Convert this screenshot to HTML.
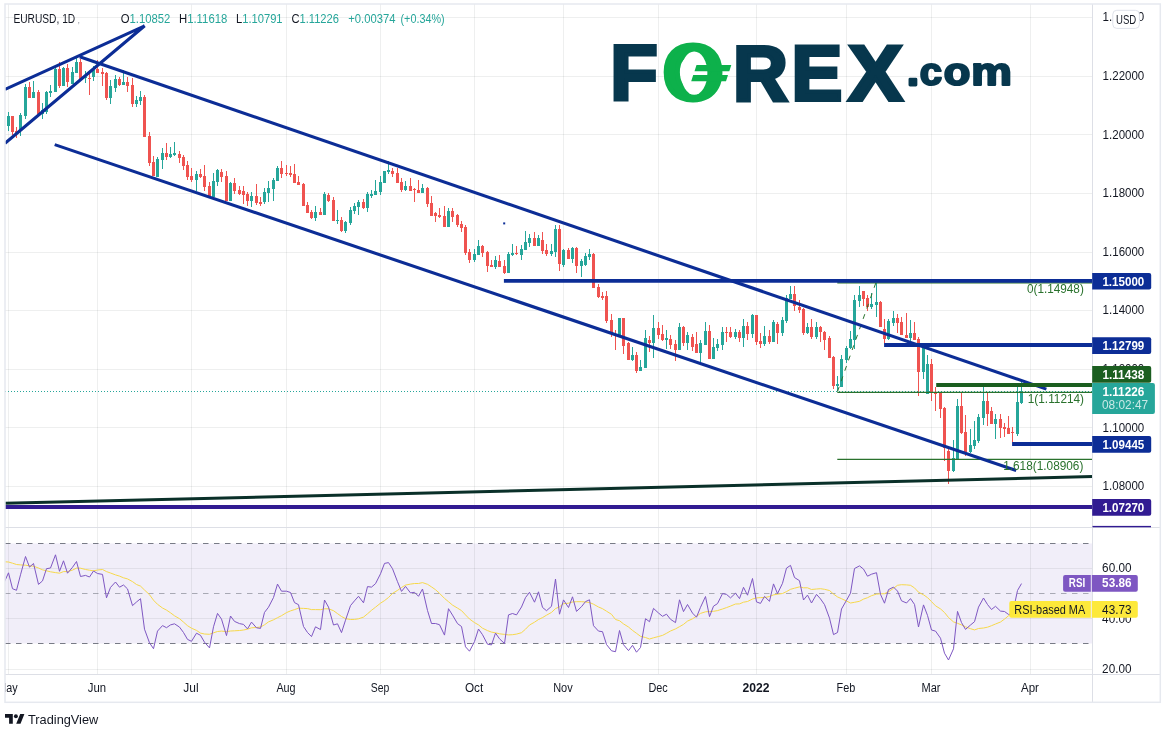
<!DOCTYPE html><html><head><meta charset="utf-8"><title>EURUSD 1D</title>
<style>html,body{margin:0;padding:0;background:#fff}svg{display:block}text{font-family:"Liberation Sans",sans-serif}</style></head><body>
<svg width="1170" height="737" viewBox="0 0 1170 737">
<rect x="0" y="0" width="1170" height="737" fill="#fff"/>
<defs><clipPath id="cp"><rect x="5" y="4" width="1087.5" height="523.5"/></clipPath>
<clipPath id="cr"><rect x="5" y="527.5" width="1087.5" height="147.0"/></clipPath>
<clipPath id="ct"><rect x="5.5" y="675" width="1087" height="27"/></clipPath></defs>
<rect x="5" y="543.5" width="1087.5" height="100.0" fill="#f1eef9"/>
<path d="M8.5 4V674.5M97.5 4V674.5M191.5 4V674.5M286.5 4V674.5M380.5 4V674.5M474.5 4V674.5M563.5 4V674.5M658.5 4V674.5M756.5 4V674.5M846.5 4V674.5M931.5 4V674.5M1030.5 4V674.5M5 17.5H1092.5M5 76.5H1092.5M5 134.5H1092.5M5 193.5H1092.5M5 252.5H1092.5M5 310.5H1092.5M5 369.5H1092.5M5 427.5H1092.5M5 486.5H1092.5M5 568.5H1092.5M5 618.5H1092.5M5 669.5H1092.5" stroke="#131722" stroke-opacity="0.07" stroke-width="1" fill="none"/>
<path d="M5 543.5H1089M5 643.5H1089" stroke="#787b86" stroke-width="1" stroke-dasharray="5.5 5.5" fill="none"/>
<path d="M5 593.5H1089" stroke="#787b86" stroke-opacity="0.6" stroke-width="1" stroke-dasharray="5.5 5.5" fill="none"/>
<path d="M5 391.5H1092.5" stroke="#26a69a" stroke-width="1" stroke-dasharray="1 2" fill="none"/>
<g clip-path="url(#cp)">
<path d="M12.5 116V135M16.5 127V138M29.5 82V98M38.5 90V114M59.5 62V88M67.5 64V87M80.5 59V79M89.5 74V95M97.5 60V73M102.5 68V86M106.5 72V100M119.5 77V86M127.5 77V92M132.5 78V107M144.5 95V137M149.5 132V166M153.5 156V176M166.5 143V160M179.5 151V163M183.5 155V170M187.5 161V180M191.5 168V182M200.5 169V178M204.5 165V191M209.5 182V196M221.5 169V182M226.5 171V201M234.5 178V194M239.5 186V195M243.5 186V204M247.5 192V206M256.5 184V205M260.5 197V206M281.5 161V178M286.5 165V176M290.5 166V177M294.5 164V183M298.5 176V185M303.5 183V206M307.5 202V213M311.5 210V219M320.5 208V215M328.5 193V202M333.5 197V221M341.5 217V232M363.5 199V209M392.5 168V177M397.5 168V183M401.5 178V192M410.5 178V191M414.5 188V202M418.5 180V193M427.5 187V207M431.5 196V216M435.5 212V222M439.5 208V218M444.5 206V227M452.5 208V222M457.5 214V227M461.5 221V232M465.5 225V255M469.5 249V263M482.5 245V257M487.5 251V272M491.5 260V267M499.5 255V267M504.5 260V274M516.5 246V255M534.5 232V246M542.5 232V254M546.5 244V256M559.5 225V271M568.5 248V259M576.5 247V273M593.5 253V288M598.5 284V298M602.5 292V300M606.5 291V323M611.5 314V337M615.5 330V350M623.5 318V354M628.5 342V360M636.5 352V373M649.5 336V352M658.5 322V339M662.5 325V341M670.5 335V349M675.5 340V361M683.5 326V346M692.5 334V351M696.5 332V353M709.5 325V359M726.5 327V342M730.5 327V338M739.5 330V342M747.5 322V340M756.5 315V345M760.5 333V348M769.5 330V344M777.5 322V344M794.5 286V311M799.5 300V313M803.5 308V335M811.5 319V339M820.5 326V342M824.5 331V350M829.5 336V358M833.5 356V389M863.5 291V306M867.5 295V311M880.5 301V327M884.5 319V343M897.5 314V333M901.5 317V335M906.5 313V338M914.5 322V340M918.5 337V396M931.5 359V401M935.5 387V411M940.5 393V418M944.5 407V461M948.5 449V484M961.5 393V434M965.5 415V456M987.5 393V426M991.5 407V424M1000.5 414V438M1004.5 423V437M1008.5 416V434M1012.5 427V442" stroke="#ef5350" stroke-width="1" fill="none"/>
<path d="M11.0 116h3V132h-3zM15.0 131h3V134h-3zM28.0 87h3V98h-3zM37.0 92h3V114h-3zM58.0 69h3V86h-3zM66.0 68h3V82h-3zM79.0 62h3V79h-3zM88.0 78h3V79h-3zM96.0 69h3V73h-3zM101.0 72h3V74h-3zM105.0 73h3V98h-3zM118.0 79h3V85h-3zM126.0 82h3V86h-3zM131.0 85h3V104h-3zM143.0 97h3V137h-3zM148.0 136h3V163h-3zM152.0 162h3V176h-3zM165.0 153h3V157h-3zM178.0 154h3V158h-3zM182.0 157h3V166h-3zM186.0 165h3V177h-3zM190.0 176h3V180h-3zM199.0 174h3V177h-3zM203.0 176h3V187h-3zM208.0 186h3V196h-3zM220.0 172h3V177h-3zM225.0 176h3V201h-3zM233.0 183h3V191h-3zM238.0 190h3V194h-3zM242.0 191h3V195h-3zM246.0 194h3V201h-3zM255.0 196h3V203h-3zM259.0 202h3V204h-3zM280.0 168h3V174h-3zM285.0 173h3V174h-3zM289.0 173h3V175h-3zM293.0 174h3V183h-3zM297.0 182h3V185h-3zM302.0 184h3V206h-3zM306.0 205h3V213h-3zM310.0 212h3V218h-3zM319.0 212h3V215h-3zM327.0 195h3V201h-3zM332.0 200h3V221h-3zM340.0 220h3V231h-3zM362.0 202h3V208h-3zM391.0 171h3V174h-3zM396.0 173h3V183h-3zM400.0 182h3V190h-3zM409.0 186h3V191h-3zM413.0 189h3V190h-3zM417.0 190h3V193h-3zM426.0 188h3V204h-3zM430.0 203h3V216h-3zM434.0 213h3V216h-3zM438.0 215h3V217h-3zM443.0 216h3V227h-3zM451.0 211h3V217h-3zM456.0 215h3V225h-3zM460.0 224h3V228h-3zM464.0 227h3V253h-3zM468.0 252h3V260h-3zM481.0 246h3V253h-3zM486.0 252h3V266h-3zM490.0 265h3V267h-3zM498.0 261h3V267h-3zM503.0 266h3V273h-3zM515.0 253h3V254h-3zM533.0 238h3V246h-3zM541.0 240h3V251h-3zM545.0 250h3V254h-3zM558.0 229h3V264h-3zM567.0 250h3V259h-3zM575.0 248h3V266h-3zM592.0 254h3V288h-3zM597.0 287h3V297h-3zM601.0 296h3V298h-3zM605.0 296h3V321h-3zM610.0 320h3V334h-3zM614.0 334h3V336h-3zM622.0 318h3V346h-3zM627.0 343h3V360h-3zM635.0 355h3V371h-3zM648.0 340h3V343h-3zM657.0 328h3V335h-3zM661.0 334h3V340h-3zM669.0 339h3V345h-3zM674.0 344h3V350h-3zM682.0 327h3V343h-3zM691.0 337h3V347h-3zM695.0 344h3V353h-3zM708.0 331h3V359h-3zM725.0 332h3V333h-3zM729.0 332h3V337h-3zM738.0 332h3V338h-3zM746.0 326h3V334h-3zM755.0 315h3V342h-3zM759.0 341h3V344h-3zM768.0 336h3V342h-3zM776.0 324h3V333h-3zM793.0 294h3V306h-3zM798.0 307h3V310h-3zM802.0 309h3V333h-3zM810.0 327h3V337h-3zM819.0 327h3V332h-3zM823.0 332h3V340h-3zM828.0 338h3V358h-3zM832.0 357h3V386h-3zM862.0 291h3V299h-3zM866.0 298h3V307h-3zM879.0 302h3V327h-3zM883.0 329h3V339h-3zM896.0 318h3V323h-3zM900.0 322h3V335h-3zM905.0 335h3V338h-3zM913.0 333h3V340h-3zM917.0 339h3V372h-3zM930.0 364h3V392h-3zM934.0 392h3V394h-3zM939.0 393h3V409h-3zM943.0 408h3V448h-3zM947.0 451h3V471h-3zM960.0 406h3V433h-3zM964.0 432h3V452h-3zM986.0 401h3V414h-3zM990.0 411h3V424h-3zM999.0 419h3V428h-3zM1003.0 427h3V429h-3zM1007.0 428h3V434h-3zM1011.0 432h3V433h-3z" fill="#ef5350"/>
<path d="M8.5 112V131M20.5 113V136M25.5 84V119M33.5 81V98M42.5 103V119M46.5 91V114M50.5 85V97M55.5 68V92M63.5 67V86M72.5 67V84M76.5 58V73M85.5 71V83M93.5 66V81M110.5 80V104M115.5 75V92M123.5 70V85M136.5 96V107M140.5 91V105M157.5 157V177M162.5 148V169M170.5 147V158M174.5 142V156M196.5 171V191M213.5 173V197M217.5 169V186M230.5 182V201M251.5 192V207M264.5 188V204M268.5 181V202M273.5 178V201M277.5 166V181M315.5 206V221M324.5 192V215M337.5 210V224M345.5 221V233M350.5 207V225M354.5 203V214M358.5 200V215M367.5 192V212M371.5 190V198M375.5 180V195M380.5 176V195M384.5 171V183M388.5 161V174M405.5 181V191M422.5 184V193M448.5 208V227M474.5 249V262M478.5 240V255M495.5 256V269M508.5 252V273M512.5 244V256M521.5 245V260M525.5 231V250M529.5 234V247M538.5 235V246M551.5 244V256M555.5 225V257M563.5 249V267M572.5 247V263M581.5 259V277M585.5 253V266M589.5 249V260M619.5 318V335M632.5 347V361M640.5 360V371M645.5 330V368M653.5 315V358M666.5 330V349M679.5 323V350M687.5 332V350M700.5 340V362M705.5 322V345M713.5 338V359M717.5 339V351M722.5 327V350M735.5 329V339M743.5 319V347M752.5 314V338M764.5 326V346M773.5 320V342M782.5 317V336M786.5 295V323M790.5 286V299M807.5 323V334M816.5 322V339M837.5 376V391M841.5 355V387M846.5 346V363M850.5 331V349M854.5 295V349M859.5 286V307M871.5 293V309M876.5 283V317M888.5 319V340M893.5 311V326M910.5 320V341M923.5 348V379M927.5 355V394M953.5 440V472M957.5 399V459M970.5 429V453M974.5 421V449M978.5 414V443M983.5 387V425M995.5 414V439M1017.5 387V436M1021.5 380V404" stroke="#26a69a" stroke-width="1" fill="none"/>
<path d="M7.0 116h3V126h-3zM19.0 115h3V131h-3zM24.0 87h3V116h-3zM32.0 92h3V98h-3zM41.0 110h3V114h-3zM45.0 92h3V112h-3zM49.0 91h3V93h-3zM54.0 69h3V92h-3zM62.0 68h3V86h-3zM71.0 72h3V84h-3zM75.0 62h3V73h-3zM84.0 77h3V78h-3zM92.0 70h3V77h-3zM109.0 86h3V98h-3zM114.0 79h3V88h-3zM122.0 82h3V85h-3zM135.0 100h3V104h-3zM139.0 97h3V101h-3zM156.0 159h3V177h-3zM161.0 153h3V160h-3zM169.0 154h3V157h-3zM173.0 153h3V155h-3zM195.0 174h3V180h-3zM212.0 181h3V197h-3zM216.0 170h3V182h-3zM229.0 183h3V201h-3zM250.0 196h3V201h-3zM263.0 192h3V202h-3zM267.0 188h3V193h-3zM272.0 180h3V189h-3zM276.0 168h3V181h-3zM314.0 212h3V218h-3zM323.0 194h3V215h-3zM336.0 220h3V221h-3zM344.0 222h3V231h-3zM349.0 210h3V223h-3zM353.0 206h3V211h-3zM357.0 202h3V207h-3zM366.0 194h3V208h-3zM370.0 194h3V196h-3zM374.0 191h3V195h-3zM379.0 182h3V192h-3zM383.0 171h3V183h-3zM387.0 170h3V172h-3zM404.0 186h3V190h-3zM421.0 188h3V193h-3zM447.0 211h3V227h-3zM473.0 254h3V260h-3zM477.0 246h3V255h-3zM494.0 260h3V267h-3zM507.0 254h3V273h-3zM511.0 253h3V255h-3zM520.0 249h3V255h-3zM524.0 242h3V250h-3zM528.0 238h3V243h-3zM537.0 238h3V246h-3zM550.0 251h3V254h-3zM554.0 229h3V252h-3zM562.0 250h3V265h-3zM571.0 248h3V259h-3zM580.0 261h3V266h-3zM584.0 256h3V265h-3zM588.0 254h3V257h-3zM618.0 318h3V335h-3zM631.0 355h3V360h-3zM639.0 367h3V371h-3zM644.0 338h3V368h-3zM652.0 328h3V343h-3zM665.0 338h3V340h-3zM678.0 327h3V350h-3zM686.0 335h3V343h-3zM699.0 343h3V353h-3zM704.0 331h3V345h-3zM712.0 347h3V359h-3zM716.0 344h3V348h-3zM721.0 332h3V345h-3zM734.0 332h3V337h-3zM742.0 326h3V338h-3zM751.0 315h3V334h-3zM763.0 336h3V344h-3zM772.0 322h3V342h-3zM781.0 320h3V333h-3zM785.0 298h3V321h-3zM789.0 294h3V299h-3zM806.0 327h3V333h-3zM815.0 327h3V337h-3zM836.0 384h3V386h-3zM840.0 359h3V387h-3zM845.0 348h3V360h-3zM849.0 339h3V348h-3zM853.0 300h3V340h-3zM858.0 295h3V301h-3zM870.0 304h3V307h-3zM875.0 302h3V305h-3zM887.0 321h3V339h-3zM892.0 318h3V323h-3zM909.0 333h3V338h-3zM922.0 348h3V372h-3zM926.0 364h3V394h-3zM952.0 458h3V471h-3zM956.0 406h3V459h-3zM969.0 445h3V452h-3zM973.0 440h3V446h-3zM977.0 417h3V441h-3zM982.0 401h3V418h-3zM994.0 419h3V424h-3zM1016.0 402h3V434h-3zM1020.0 391h3V403h-3z" fill="#26a69a"/>
<path d="M837.3 282.9H1092.5M837.3 392.3H1092.5M837.3 459.4H1092.5" stroke="#2a722d" stroke-width="1.3" fill="none"/>
<path d="M837.5 391.5L875.8 283" stroke="#2a722d" stroke-width="1" stroke-dasharray="5 6" fill="none"/>
<g stroke="#0c2d96" fill="none" stroke-width="3.1">
<path d="M5 89.4L144.7 25.8M144.7 25.8L5 143.3"/>
<path d="M79.7 56.7L1046.4 389.1"/>
<path d="M54.7 144.6L1016.2 470.5"/>
</g>
<g stroke="#0c2d96" fill="none" stroke-width="3.8">
<path d="M503.9 280.8H1092.5"/>
<path d="M884.1 345H1092.5"/>
<path d="M1012.1 444H1092.5"/>
</g>
<rect x="503.2" y="222.4" width="2" height="2" fill="#0c2d96"/>
<path d="M936.2 385H1092.5" stroke="#1b5e20" stroke-width="3.8" fill="none"/>
<path d="M5 503.3L1092.5 476.6" stroke="#0a3029" stroke-width="3" fill="none"/>
<path d="M5 506.9H1092.5" stroke="#311b92" stroke-width="4" fill="none"/>
</g>
<text x="1027.0" y="292.8" font-size="12" fill="#2a722d" textLength="56.8" lengthAdjust="spacingAndGlyphs">0(1.14948)</text>
<text x="1027.8" y="402.6" font-size="12" fill="#2a722d" textLength="56.2" lengthAdjust="spacingAndGlyphs">1(1.11214)</text>
<text x="1003.2" y="470.2" font-size="12" fill="#2a722d" textLength="80.2" lengthAdjust="spacingAndGlyphs">1.618(1.08906)</text>
<g clip-path="url(#cr)">
<polyline points="0,561.5 8.5,562.0 12.5,563.2 16.5,564.5 20.5,564.9 25.5,565.2 29.5,565.8 33.5,566.2 38.5,568.0 42.5,569.8 46.5,570.8 50.5,571.8 55.5,572.6 59.5,573.2 63.5,571.6 67.5,571.6 72.5,570.1 76.5,568.1 80.5,568.2 85.5,569.5 89.5,570.2 93.5,570.8 97.5,570.0 102.5,569.5 106.5,571.6 110.5,573.0 115.5,574.9 119.5,576.1 123.5,577.8 127.5,578.9 132.5,581.6 136.5,584.5 140.5,586.1 144.5,590.0 149.5,594.7 153.5,600.2 157.5,604.3 162.5,608.0 166.5,610.1 170.5,612.8 174.5,615.8 179.5,618.7 183.5,622.1 187.5,625.7 191.5,628.2 196.5,630.4 200.5,633.1 204.5,634.0 209.5,634.3 213.5,632.8 217.5,631.5 221.5,631.1 226.5,631.6 230.5,631.0 234.5,630.8 239.5,630.5 243.5,630.0 247.5,629.2 251.5,627.8 256.5,627.5 260.5,627.0 264.5,624.8 268.5,621.9 273.5,619.8 277.5,617.7 281.5,615.7 286.5,612.6 290.5,610.9 294.5,609.6 298.5,608.2 303.5,608.4 307.5,608.6 311.5,609.6 315.5,609.6 320.5,609.7 324.5,608.8 328.5,608.8 333.5,610.7 337.5,613.6 341.5,616.5 345.5,618.6 350.5,619.5 354.5,619.4 358.5,618.8 363.5,617.1 367.5,613.8 371.5,610.3 375.5,607.2 380.5,603.2 384.5,600.6 388.5,597.5 392.5,593.4 397.5,590.4 401.5,587.5 405.5,585.1 410.5,584.1 414.5,583.5 418.5,583.5 422.5,582.6 427.5,584.3 431.5,586.9 435.5,589.7 439.5,593.3 444.5,598.4 448.5,601.7 452.5,605.1 457.5,608.1 461.5,610.6 465.5,614.9 469.5,619.0 474.5,622.6 478.5,624.9 482.5,628.2 487.5,630.6 491.5,632.1 495.5,632.8 499.5,633.8 504.5,634.4 508.5,634.9 512.5,634.7 516.5,634.1 521.5,632.7 525.5,629.2 529.5,625.0 534.5,622.2 538.5,619.5 542.5,617.6 546.5,615.2 551.5,612.4 555.5,608.6 559.5,606.8 563.5,603.7 568.5,603.2 572.5,602.0 576.5,601.7 581.5,601.7 585.5,602.0 589.5,602.5 593.5,604.2 598.5,607.0 602.5,608.7 606.5,611.2 611.5,614.3 615.5,619.5 619.5,620.7 623.5,623.9 628.5,627.0 632.5,630.4 636.5,633.3 640.5,636.3 645.5,637.5 649.5,639.0 653.5,637.8 658.5,636.5 662.5,635.4 666.5,633.3 670.5,631.0 675.5,628.9 679.5,626.7 683.5,624.4 687.5,621.1 692.5,618.8 696.5,616.3 700.5,613.4 705.5,611.8 709.5,611.5 713.5,611.3 717.5,610.6 722.5,609.0 726.5,607.6 730.5,606.1 735.5,604.0 739.5,603.9 743.5,602.2 747.5,601.5 752.5,599.0 756.5,597.9 760.5,597.6 764.5,597.6 769.5,596.5 773.5,594.9 777.5,594.2 782.5,593.5 786.5,591.6 790.5,589.3 794.5,588.2 799.5,586.9 803.5,587.8 807.5,587.8 811.5,589.5 816.5,589.0 820.5,588.7 824.5,589.3 829.5,590.5 833.5,594.1 837.5,596.9 841.5,598.7 846.5,601.0 850.5,603.0 854.5,602.3 859.5,601.3 863.5,599.1 867.5,597.7 871.5,595.7 876.5,594.1 880.5,593.8 884.5,593.7 888.5,591.7 893.5,588.3 897.5,585.3 901.5,584.7 906.5,584.9 910.5,585.3 914.5,587.9 918.5,592.2 923.5,594.8 927.5,597.6 931.5,601.6 935.5,605.8 940.5,608.9 944.5,612.5 948.5,617.5 953.5,621.9 957.5,623.3 961.5,624.9 965.5,626.8 970.5,628.7 974.5,629.9 978.5,628.5 983.5,628.0 987.5,627.2 991.5,625.7 995.5,624.0 1000.5,622.0 1004.5,619.1 1008.5,615.8 1012.5,613.3 1017.5,611.8 1021.5,609.0" fill="none" stroke="#f6d84b" stroke-width="1" stroke-linejoin="round"/>
<polyline points="4.3,582.2 8.5,572.8 12.5,588.7 16.5,590.3 20.5,574.8 25.5,556.5 29.5,567.1 33.5,563.5 38.5,584.4 42.5,580.9 46.5,568.7 50.5,568.0 55.5,554.8 59.5,571.3 63.5,560.8 67.5,573.2 72.5,567.3 76.5,561.5 80.5,576.5 85.5,575.4 89.5,577.0 93.5,571.0 97.5,573.5 102.5,574.4 106.5,597.8 110.5,587.4 115.5,582.0 119.5,587.2 123.5,585.0 127.5,588.9 132.5,605.6 136.5,602.0 140.5,598.7 144.5,629.2 149.5,642.8 153.5,648.7 157.5,631.1 162.5,625.6 166.5,627.7 170.5,624.9 174.5,623.8 179.5,627.1 183.5,632.5 187.5,639.4 191.5,641.3 196.5,633.2 200.5,635.3 204.5,642.2 209.5,647.9 213.5,626.8 217.5,613.4 221.5,619.1 226.5,635.6 230.5,616.0 234.5,621.4 239.5,623.6 243.5,624.4 247.5,628.9 251.5,622.1 256.5,627.8 260.5,628.4 264.5,612.4 268.5,607.2 273.5,597.5 277.5,584.1 281.5,591.2 286.5,591.2 290.5,592.5 294.5,602.6 298.5,604.7 303.5,626.5 307.5,632.5 311.5,636.6 315.5,626.8 320.5,629.6 324.5,600.0 328.5,607.1 333.5,625.0 337.5,623.8 341.5,632.6 345.5,620.2 350.5,605.6 354.5,600.8 358.5,596.3 363.5,602.8 367.5,586.6 371.5,587.1 375.5,583.7 380.5,573.8 384.5,563.4 388.5,562.6 392.5,568.7 397.5,581.7 401.5,591.4 405.5,586.4 410.5,592.9 414.5,592.3 418.5,596.3 422.5,589.0 427.5,610.5 431.5,623.5 435.5,623.5 439.5,624.7 444.5,635.1 448.5,608.7 452.5,615.1 457.5,623.6 461.5,626.5 465.5,646.8 469.5,651.2 474.5,641.6 478.5,629.0 482.5,634.7 487.5,644.2 491.5,644.9 495.5,633.1 499.5,638.8 504.5,643.5 508.5,614.9 512.5,613.5 516.5,614.9 521.5,607.0 525.5,597.6 529.5,592.3 534.5,602.2 538.5,591.8 542.5,607.4 546.5,610.7 551.5,606.3 555.5,579.0 559.5,614.2 563.5,599.9 568.5,607.5 572.5,596.8 576.5,611.4 581.5,606.7 585.5,601.6 589.5,599.8 593.5,625.7 598.5,631.1 602.5,631.7 606.5,644.5 611.5,650.8 615.5,651.7 619.5,630.5 623.5,644.7 628.5,650.6 632.5,645.3 636.5,652.2 640.5,647.5 645.5,618.7 649.5,621.7 653.5,608.4 658.5,613.0 662.5,616.3 666.5,614.2 670.5,619.3 675.5,622.6 679.5,599.8 683.5,611.6 687.5,604.5 692.5,613.1 696.5,617.2 700.5,607.3 705.5,596.5 709.5,616.6 713.5,606.2 717.5,603.6 722.5,593.6 726.5,594.4 730.5,597.9 735.5,593.2 739.5,598.6 743.5,587.3 747.5,595.2 752.5,578.5 756.5,601.9 760.5,603.4 764.5,596.4 769.5,601.3 773.5,583.9 777.5,593.6 782.5,583.3 786.5,568.1 790.5,565.4 794.5,577.5 799.5,580.7 803.5,600.0 807.5,595.1 811.5,603.0 816.5,594.4 820.5,598.9 824.5,604.6 829.5,618.2 833.5,634.6 837.5,632.5 841.5,609.0 846.5,600.3 850.5,593.1 854.5,568.5 859.5,565.9 863.5,569.1 867.5,576.2 871.5,574.2 876.5,572.7 880.5,594.4 884.5,603.2 888.5,589.6 893.5,587.1 897.5,591.1 901.5,600.8 906.5,603.0 910.5,598.6 914.5,604.4 918.5,627.0 923.5,604.9 927.5,615.4 931.5,630.0 935.5,631.1 940.5,638.2 944.5,653.2 948.5,660.0 953.5,648.8 957.5,611.4 961.5,622.6 965.5,629.4 970.5,625.0 974.5,621.7 978.5,607.1 983.5,598.0 987.5,604.5 991.5,609.5 995.5,606.3 1000.5,611.1 1004.5,611.5 1008.5,614.4 1012.5,614.0 1017.5,590.5 1021.5,583.6" fill="none" stroke="#7e57c2" stroke-width="1" stroke-linejoin="round"/>
</g>
<path d="M1092.5 4V702M5 527.5H1160M5 674.5H1160" stroke="#dddfe6" stroke-width="1" fill="none"/>
<rect x="5" y="4" width="1155.3" height="698.3" fill="none" stroke="#e6e9ef" stroke-width="1.5"/>
<text x="1102.6" y="21.4" font-size="12" fill="#131722" textLength="41.7" lengthAdjust="spacingAndGlyphs">1.24000</text>
<text x="1102.6" y="80.0" font-size="12" fill="#131722" textLength="41.7" lengthAdjust="spacingAndGlyphs">1.22000</text>
<text x="1102.6" y="138.6" font-size="12" fill="#131722" textLength="41.7" lengthAdjust="spacingAndGlyphs">1.20000</text>
<text x="1102.6" y="197.2" font-size="12" fill="#131722" textLength="41.7" lengthAdjust="spacingAndGlyphs">1.18000</text>
<text x="1102.6" y="255.8" font-size="12" fill="#131722" textLength="41.7" lengthAdjust="spacingAndGlyphs">1.16000</text>
<text x="1102.6" y="314.4" font-size="12" fill="#131722" textLength="41.7" lengthAdjust="spacingAndGlyphs">1.14000</text>
<text x="1102.6" y="373.0" font-size="12" fill="#131722" textLength="41.7" lengthAdjust="spacingAndGlyphs">1.12000</text>
<text x="1102.6" y="431.6" font-size="12" fill="#131722" textLength="41.7" lengthAdjust="spacingAndGlyphs">1.10000</text>
<text x="1102.6" y="490.2" font-size="12" fill="#131722" textLength="41.7" lengthAdjust="spacingAndGlyphs">1.08000</text>
<text x="1102.1" y="571.8" font-size="12" fill="#131722" textLength="29.4" lengthAdjust="spacingAndGlyphs">60.00</text>
<text x="1102.1" y="622.7" font-size="12" fill="#131722" textLength="29.4" lengthAdjust="spacingAndGlyphs">40.00</text>
<text x="1102.1" y="672.7" font-size="12" fill="#131722" textLength="29.4" lengthAdjust="spacingAndGlyphs">20.00</text>
<path d="M1092.2 273.0H1149.2a2 2 0 0 1 2 2V287.6a2 2 0 0 1 -2 2H1092.2z" fill="#0c2d96"/>
<text x="1102.4" y="285.6" font-size="12" fill="#fff" font-weight="bold" textLength="41.9" lengthAdjust="spacingAndGlyphs">1.15000</text>
<path d="M1092.2 337.3H1149.2a2 2 0 0 1 2 2V351.9a2 2 0 0 1 -2 2H1092.2z" fill="#0c2d96"/>
<text x="1102.4" y="349.9" font-size="12" fill="#fff" font-weight="bold" textLength="41.9" lengthAdjust="spacingAndGlyphs">1.12799</text>
<path d="M1092.2 366.1H1149.2a2 2 0 0 1 2 2V380.7a2 2 0 0 1 -2 2H1092.2z" fill="#1b5e20"/>
<text x="1102.4" y="378.7" font-size="12" fill="#fff" font-weight="bold" textLength="41.9" lengthAdjust="spacingAndGlyphs">1.11438</text>
<path d="M1092.2 436.1H1149.2a2 2 0 0 1 2 2V450.7a2 2 0 0 1 -2 2H1092.2z" fill="#0c2d96"/>
<text x="1102.4" y="448.7" font-size="12" fill="#fff" font-weight="bold" textLength="41.9" lengthAdjust="spacingAndGlyphs">1.09445</text>
<path d="M1092.2 499.1H1149.2a2 2 0 0 1 2 2V513.7a2 2 0 0 1 -2 2H1092.2z" fill="#311b92"/>
<text x="1102.4" y="511.7" font-size="12" fill="#fff" font-weight="bold" textLength="41.9" lengthAdjust="spacingAndGlyphs">1.07270</text>
<rect x="1092.5" y="525.9" width="58.5" height="1.4" fill="#311b92"/>
<path d="M1092.2 383.1H1152.9a2 2 0 0 1 2 2V411.9a2 2 0 0 1 -2 2H1092.2z" fill="#26a69a"/>
<text x="1102.4" y="395.6" font-size="12" fill="#fff" font-weight="bold" textLength="41.9" lengthAdjust="spacingAndGlyphs">1.11226</text>
<text x="1102.0" y="409.2" font-size="12" fill="#fff" textLength="46.1" lengthAdjust="spacingAndGlyphs" fill-opacity="0.75">08:02:47</text>
<path d="M1065.1 575H1090.8V591.8H1065.1a2 2 0 0 1 -2 -2V577a2 2 0 0 1 2 -2z" fill="#7e57c2"/>
<path d="M1091.8 575H1135.8a2 2 0 0 1 2 2V589.8a2 2 0 0 1 -2 2H1091.8z" fill="#7e57c2"/>
<text x="1068.8" y="587.4" font-size="12" fill="#fff" font-weight="bold" textLength="16.4" lengthAdjust="spacingAndGlyphs">RSI</text>
<text x="1102.1" y="587.4" font-size="12" fill="#fff" font-weight="bold" textLength="29.4" lengthAdjust="spacingAndGlyphs">53.86</text>
<path d="M1011.3 601.1H1090.8V617.8H1011.3a2 2 0 0 1 -2 -2V603.1a2 2 0 0 1 2 -2z" fill="#fde93a"/>
<path d="M1091.8 601.1H1135.8a2 2 0 0 1 2 2V615.8a2 2 0 0 1 -2 2H1091.8z" fill="#fde93a"/>
<text x="1014.3" y="613.6" font-size="12" fill="#131722" textLength="70.9" lengthAdjust="spacingAndGlyphs">RSI-based MA</text>
<text x="1102.1" y="613.6" font-size="12" fill="#131722" textLength="29.4" lengthAdjust="spacingAndGlyphs">43.73</text>
<rect x="1112.8" y="10.3" width="26.6" height="18.1" rx="4" fill="#fff" stroke="#dfe2ea" stroke-width="1"/>
<text x="1116.0" y="23.8" font-size="12" fill="#131722" textLength="20.2" lengthAdjust="spacingAndGlyphs">USD</text>
<g clip-path="url(#ct)">
<text x="17.6" y="691.9" font-size="12" fill="#131722" text-anchor="end" textLength="20.3" lengthAdjust="spacingAndGlyphs">May</text>
<text x="87.8" y="691.9" font-size="12" fill="#131722" textLength="18.3" lengthAdjust="spacingAndGlyphs">Jun</text>
<text x="183.3" y="691.9" font-size="12" fill="#131722" textLength="15.3" lengthAdjust="spacingAndGlyphs">Jul</text>
<text x="276.4" y="691.9" font-size="12" fill="#131722" textLength="19.2" lengthAdjust="spacingAndGlyphs">Aug</text>
<text x="370.8" y="691.9" font-size="12" fill="#131722" textLength="18.5" lengthAdjust="spacingAndGlyphs">Sep</text>
<text x="464.9" y="691.9" font-size="12" fill="#131722" textLength="18.3" lengthAdjust="spacingAndGlyphs">Oct</text>
<text x="553.2" y="691.9" font-size="12" fill="#131722" textLength="19.5" lengthAdjust="spacingAndGlyphs">Nov</text>
<text x="648.4" y="691.9" font-size="12" fill="#131722" textLength="19.3" lengthAdjust="spacingAndGlyphs">Dec</text>
<text x="742.5" y="691.9" font-size="12" fill="#131722" font-weight="bold" textLength="27.0" lengthAdjust="spacingAndGlyphs">2022</text>
<text x="836.6" y="691.9" font-size="12" fill="#131722" textLength="18.7" lengthAdjust="spacingAndGlyphs">Feb</text>
<text x="921.5" y="691.9" font-size="12" fill="#131722" textLength="19.0" lengthAdjust="spacingAndGlyphs">Mar</text>
<text x="1021.0" y="691.9" font-size="12" fill="#131722" textLength="17.9" lengthAdjust="spacingAndGlyphs">Apr</text>
</g>
<text x="13.4" y="22.8" font-size="12" fill="#131722" textLength="61.8" lengthAdjust="spacingAndGlyphs">EURUSD, 1D</text>
<text x="77.6" y="22.8" font-size="9" fill="#9598a1">,</text>
<text x="120.8" y="22.8" font-size="12" textLength="49.6" lengthAdjust="spacingAndGlyphs" fill="#131722">O<tspan fill="#26a69a">1.10852</tspan></text>
<text x="179.0" y="22.8" font-size="12" textLength="48.3" lengthAdjust="spacingAndGlyphs" fill="#131722">H<tspan fill="#26a69a">1.11618</tspan></text>
<text x="236.0" y="22.8" font-size="12" textLength="46.6" lengthAdjust="spacingAndGlyphs" fill="#131722">L<tspan fill="#26a69a">1.10791</tspan></text>
<text x="291.4" y="22.8" font-size="12" textLength="47.6" lengthAdjust="spacingAndGlyphs" fill="#131722">C<tspan fill="#26a69a">1.11226</tspan></text>
<text x="348.2" y="22.8" font-size="12" fill="#26a69a" textLength="47.2" lengthAdjust="spacingAndGlyphs">+0.00374</text>
<text x="400.5" y="22.8" font-size="12" fill="#26a69a" textLength="44.1" lengthAdjust="spacingAndGlyphs">(+0.34%)</text>
<path d="M5 714.1H12.8V723.8H9.1V717.8H5z" fill="#131722"/>
<circle cx="15.9" cy="716.2" r="1.95" fill="#131722"/>
<path d="M20.2 714.1H24.4L20.5 723.8H16.2z" fill="#131722"/>
<text x="28.0" y="723.9" font-size="12.6" fill="#131722" textLength="70.3" lengthAdjust="spacingAndGlyphs">TradingView</text>
<text transform="translate(0 99.50) scale(0.07762 0.07762)" y="0" font-size="1000" font-weight="bold" fill="#07374d" stroke="#07374d" stroke-width="49.0" stroke-linejoin="miter"><tspan x="7861.7" y="0.0" textLength="611.8" lengthAdjust="spacingAndGlyphs">F</tspan><tspan x="8542.4" y="-10.3" textLength="775.9" lengthAdjust="spacingAndGlyphs" fill="#0db14b" stroke="#0db14b" stroke-width="64.4">O</tspan><tspan x="9444.0" y="0.0" textLength="707.2" lengthAdjust="spacingAndGlyphs">R</tspan><tspan x="10196.3" y="0.0" textLength="654.1" lengthAdjust="spacingAndGlyphs">E</tspan><tspan x="10932.9" y="0.0" textLength="696.5" lengthAdjust="spacingAndGlyphs">X</tspan></text>
<ellipse cx="694.2" cy="73.1" rx="13.2" ry="21.7" fill="#fff"/>
<path d="M696.5 65H731.3L729.3 71.2H694.5z M693.2 75H728L726 81.2H691.2z" fill="#0db14b"/>
<text transform="translate(0 84.50) scale(0.03933 0.03933)" y="0" font-size="1000" font-weight="bold" fill="#07374d" stroke="#07374d" stroke-width="55.9" stroke-linejoin="round"><tspan x="23069.0" y="0.0" textLength="290.7" lengthAdjust="spacingAndGlyphs" stroke-width="73.7">.</tspan><tspan x="23386.3" y="0.0" textLength="567.8" lengthAdjust="spacingAndGlyphs">c</tspan><tspan x="23993.2" y="0.0" textLength="676.2" lengthAdjust="spacingAndGlyphs">o</tspan><tspan x="24696.9" y="0.0" textLength="1033.6" lengthAdjust="spacingAndGlyphs">m</tspan></text>
</svg></body></html>
